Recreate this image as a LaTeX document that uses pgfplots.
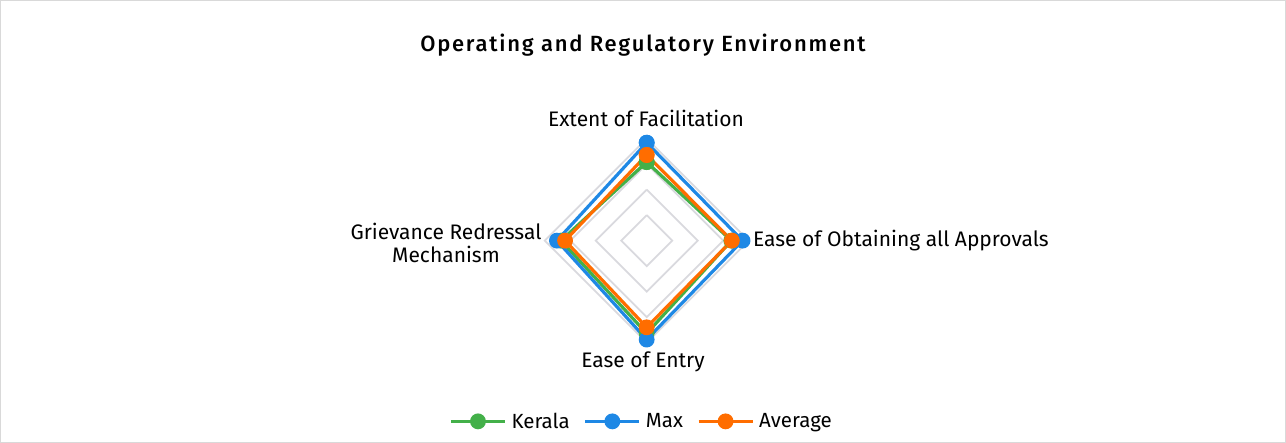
\documentclass[border=0pt]{standalone}
\usepackage{fontspec}
\setmainfont{Fira Sans}
\newfontfamily\titlefont[LetterSpace=8]{Fira Sans Medium}
\usepackage{pgfplots}
\pgfplotsset{compat=1.18}
\definecolor{kerala}{RGB}{67,176,73}
\definecolor{maxc}{RGB}{30,136,229}
\definecolor{avgc}{RGB}{255,109,0}
\definecolor{ring}{RGB}{217,217,222}
\definecolor{frame}{RGB}{217,217,217}

\begin{document}
\begin{tikzpicture}[x=1pt,y=1pt]
\draw[frame, line width=1pt] (0.5,0.5) rectangle (1285.5,442.5);
\node[font=\titlefont\fontsize{22}{24}\selectfont] at (643,398) {Operating and Regulatory Environment};
\begin{axis}[
  at={(634,198.4)}, anchor=origin,
  scale only axis, width=204pt, height=204pt,
  xmin=-100, xmax=100, ymin=-100, ymax=100,
  hide axis, clip=false,
  legend columns=3,
  legend style={at={(0.475,-0.386)}, anchor=center, draw=none, fill=none,
    font=\fontsize{20.5}{22}\selectfont,
    /tikz/every odd column/.append style={column sep=3pt},
    /tikz/every even column/.append style={column sep=12pt}},
  legend image code/.code={\draw[#1, mark repeat=2, mark phase=2]
    plot coordinates {(0pt,0pt) (27pt,0pt) (54pt,0pt)};},
  every axis plot/.append style={line width=3.2pt, mark=*, mark size=6.3pt},
]
% grid rings
\addplot[ring, line width=1.8pt, mark=none, forget plot] coordinates {(0,25) (25,0) (0,-25) (-25,0) (0,25)};
\addplot[ring, line width=1.8pt, mark=none, forget plot] coordinates {(0,50) (50,0) (0,-50) (-50,0) (0,50)};
\addplot[ring, line width=1.8pt, mark=none, forget plot] coordinates {(0,75) (75,0) (0,-75) (-75,0) (0,75)};
\addplot[ring, line width=1.8pt, mark=none, forget plot] coordinates {(0,100) (100,0) (0,-100) (-100,0) (0,100)};
% Kerala
\addplot[kerala, mark options={fill=kerala}] coordinates {(0,77) (83,0) (0,-91) (-84,0) (0,77)};
% Max
\addplot[maxc, mark options={fill=maxc}] coordinates {(0,96) (94,0) (0,-97) (-88,0) (0,96)};
% Average
\addplot[avgc, mark options={fill=avgc}] coordinates {(0,84) (83.5,0) (0,-85) (-80,0) (0,84)};
\legend{Kerala, Max, Average}
\end{axis}
\node[font=\fontsize{21}{22}\selectfont] at (646,325) {Extent of Facilitation};
\node[font=\fontsize{21}{22}\selectfont, anchor=west, inner sep=0pt] at (753,202) {Ease of Obtaining all Approvals};
\node[font=\fontsize{21}{22}\selectfont] at (643,81) {Ease of Entry};
\node[font=\fontsize{21}{23}\selectfont, align=center, inner sep=0pt] at (446,200.5) {Grievance Redressal\\Mechanism};
\end{tikzpicture}
\end{document}
